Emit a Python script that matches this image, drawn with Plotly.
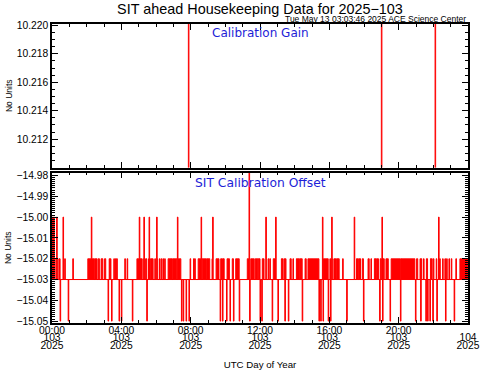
import numpy as np
import plotly.graph_objects as go

# ---------------- data ----------------
# Time grid: minutes of UTC day 103 (2025-04-13), 2-minute samples
sample_step_min = 2

# Calibration Gain: nominal level sits below the plotted window, three excursions above it
gain_base_value = 10.205
gain_spike_value = 10.225
gain_spike_min = [472, 1140, 1326]

# SIT Calibration Offset: baseline -15.03 with excursions
offset_base_value = -15.03
offset_m1502_spans_min = [
    (0, 10), (14, 20), (24, 28), (38, 40), (44, 46), (72, 74),
    (124, 136), (138, 146), (148, 156), (160, 164), (170, 176), (182, 186),
    (198, 200), (202, 204), (214, 216), (220, 222), (224, 226), (252, 254), (260, 262),
    (294, 302), (304, 312), (316, 318), (324, 328), (334, 340), (342, 350),
    (356, 358), (362, 366), (372, 374), (378, 380), (384, 386), (390, 392),
    (402, 416), (418, 432), (436, 446), (478, 480), (490, 492), (494, 496),
    (506, 516), (520, 534), (536, 546), (554, 558),
    (568, 578), (584, 596), (606, 614), (624, 628), (636, 648),
    (676, 684), (688, 700), (704, 712),
    (714, 722), (726, 734), (748, 750), (754, 756), (766, 776),
    (794, 800), (804, 810), (824, 828), (834, 836),
    (846, 856), (858, 868), (876, 880), (886, 926), (938, 956),
    (962, 972), (976, 984), (986, 994), (1006, 1008),
    (1054, 1060), (1062, 1068), (1074, 1080), (1094, 1098), (1104, 1106),
    (1116, 1122), (1124, 1130), (1136, 1140), (1146, 1150), (1156, 1164),
    (1174, 1256), (1262, 1266), (1274, 1280), (1286, 1288), (1296, 1302),
    (1308, 1316), (1320, 1322),
    (1330, 1334), (1340, 1344), (1352, 1354), (1360, 1362), (1366, 1368),
    (1374, 1376), (1382, 1384), (1392, 1394), (1398, 1400), (1412, 1438),
]
offset_m1500_min = [2, 6, 16, 38, 136, 302, 318, 336, 362, 434, 516, 556,
                    740, 774, 936, 968, 1046, 1142, 1338]
offset_high_min = [682]
offset_high_value = -14.97
offset_low_min = [28, 56, 194, 206, 232, 240, 278, 328, 448, 454, 464, 474,
                  582, 590, 604, 616, 628, 648, 684, 720, 726, 762, 782, 806,
                  818, 866, 924, 930, 938, 956, 964, 1020, 1078, 1134, 1144,
                  1170, 1206, 1258, 1276, 1294, 1300, 1308, 1318, 1332, 1362, 1392]
offset_low_value = -15.05

# Axis tick labels
hour_ticks = [0, 4, 8, 12, 16, 20, 24]
hour_labels = ["00:00", "04:00", "08:00", "12:00", "16:00", "20:00", "00:00"]
doy_labels = ["103", "103", "103", "103", "103", "103", "104"]
year_labels = ["2025"] * 7
gain_ticks = [10.212, 10.214, 10.216, 10.218, 10.220]
offset_ticks = [-15.05, -15.04, -15.03, -15.02, -15.01, -15.00, -14.99, -14.98]

# ---------------- build series ----------------
t_min = np.arange(0, 1440 + sample_step_min, sample_step_min)
t_hr = t_min / 60.0

gain = np.full(len(t_min), gain_base_value)
for m in gain_spike_min:
    gain[t_min == m] = gain_spike_value

offset = np.full(len(t_min), offset_base_value)
for a, b in offset_m1502_spans_min:
    offset[(t_min >= a) & (t_min < b)] = -15.02
for m in offset_m1500_min:
    offset[t_min == m] = -15.00
for m in offset_high_min:
    offset[t_min == m] = offset_high_value
for m in offset_low_min:
    offset[t_min == m] = offset_low_value

RED = "#ff0000"
BLUE = "rgb(30,30,215)"
FAM = "Liberation Sans, Arial, sans-serif"
TICKFONT = dict(family=FAM, size=10.3, color="black")
CLEAR = "rgba(0,0,0,0)"

fig = go.Figure()
fig.add_trace(go.Scatter(x=t_hr, y=gain, mode="lines", line=dict(color=RED, width=1, shape="hv"),
                         xaxis="x", yaxis="y", hoverinfo="skip", showlegend=False))
fig.add_trace(go.Scatter(x=[t_hr[0], t_hr[-1]], y=[offset_base_value, offset_base_value], mode="lines",
                         line=dict(color=RED, width=1), xaxis="x2", yaxis="y2",
                         hoverinfo="skip", showlegend=False))
fig.add_trace(go.Scatter(x=t_hr, y=offset, mode="lines", line=dict(color=RED, width=1, shape="hv"),
                         fill="tonexty", fillcolor=RED,
                         xaxis="x2", yaxis="y2", hoverinfo="skip", showlegend=False))
# carriers for the extra label rows of the time axis
fig.add_trace(go.Scatter(x=[], y=[], xaxis="x3", yaxis="y2", showlegend=False))
fig.add_trace(go.Scatter(x=[], y=[], xaxis="x4", yaxis="y2", showlegend=False))

common_x = dict(range=[0, 24], tickmode="array", tickvals=hour_ticks, showgrid=False,
                zeroline=False, automargin=False)
frame = dict(showline=True, linecolor="black", linewidth=1.5, mirror="ticks",
             ticks="inside", ticklen=6, tickwidth=1, tickcolor="black")

fig.update_layout(
    width=481, height=370,
    margin=dict(l=52, r=13, t=24, b=47, autoexpand=False),
    paper_bgcolor="white", plot_bgcolor="white",
    font=dict(family=FAM, color="black"),
    title=dict(text="SIT ahead Housekeeping Data for 2025\u2212103",
               font=dict(family=FAM, size=14.4, color="black"), automargin=False,
               x=0.5, xref="paper", xanchor="center", y=0.977, yref="container", yanchor="middle"),
    xaxis=dict(domain=[0, 1], anchor="y", showticklabels=False, **common_x, **frame,
               minor=dict(dtick=1, ticks="inside", ticklen=3, tickcolor="black")),
    yaxis=dict(domain=[0.52, 1], anchor="x", range=[10.2100, 10.2201], tickmode="array",
               tickvals=gain_ticks, tickformat=".3f", tickfont=TICKFONT, showgrid=False,
               zeroline=False, automargin=False,
               minor=dict(dtick=0.0005, ticks="inside", ticklen=3, tickcolor="black"),
               title=dict(text="No Units", standoff=3, font=dict(family=FAM, size=8.5)),
               **frame),
    xaxis2=dict(domain=[0, 1], anchor="y2", ticktext=hour_labels, tickfont=TICKFONT,
                ticklabelstandoff=-3, **common_x, **frame,
                minor=dict(dtick=1, ticks="inside", ticklen=3, tickcolor="black")),
    yaxis2=dict(domain=[0, 0.503], anchor="x2", range=[-15.0509, -14.9786], tickmode="array",
                tickvals=offset_ticks, tickformat=".2f", tickfont=TICKFONT, showgrid=False,
                zeroline=False, automargin=False,
                minor=dict(dtick=0.001, ticks="inside", ticklen=3, tickcolor="black"),
                title=dict(text="No Units", standoff=3, font=dict(family=FAM, size=8.5)),
                **frame),
    xaxis3=dict(overlaying="x2", anchor="y2", side="bottom", ticktext=doy_labels, tickfont=TICKFONT,
                ticks="outside", ticklen=8, tickcolor=CLEAR, ticklabelstandoff=-3,
                showline=False, **common_x),
    xaxis4=dict(overlaying="x2", anchor="y2", side="bottom", ticktext=year_labels, tickfont=TICKFONT,
                ticks="outside", ticklen=16, tickcolor=CLEAR, ticklabelstandoff=-3,
                showline=False, **common_x,
                title=dict(text="UTC Day of Year", standoff=11, font=dict(family=FAM, size=9.7))),
    annotations=[
        dict(text="Tue May 13 03:03:46 2025 ACE Science Center", xref="paper", yref="paper",
             x=1, y=1.017, xanchor="right", yanchor="middle", showarrow=False,
             font=dict(family=FAM, size=8.5, color="black")),
        dict(text="Calibration Gain", xref="x domain", yref="y domain", x=0.5, y=0.935,
             xanchor="center", yanchor="middle", showarrow=False,
             font=dict(family="DejaVu Sans, sans-serif", size=12, color=BLUE)),
        dict(text="SIT Calibration Offset", xref="x2 domain", yref="y2 domain", x=0.5, y=0.932,
             xanchor="center", yanchor="middle", showarrow=False,
             font=dict(family="DejaVu Sans, sans-serif", size=12.3, color=BLUE)),
    ],
)

fig.write_html("out.html", config={"displayModeBar": False},
               post_script="document.body.style.margin='0px';")
